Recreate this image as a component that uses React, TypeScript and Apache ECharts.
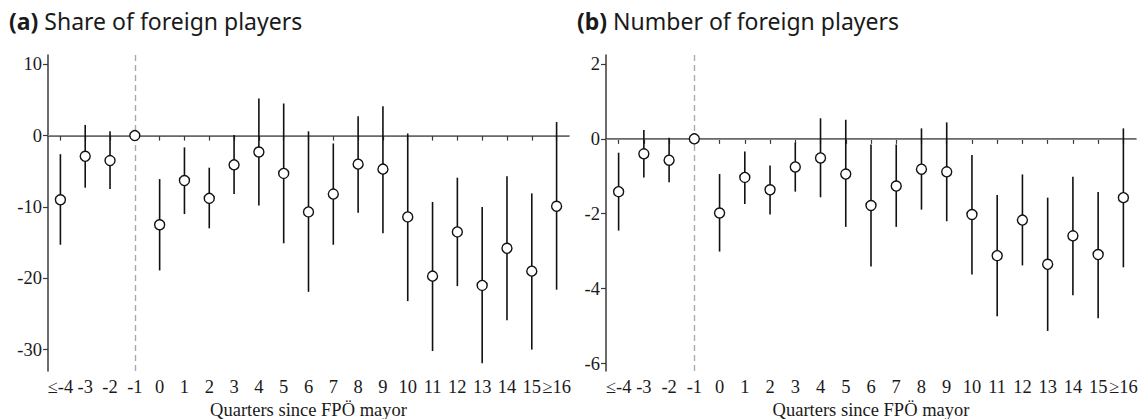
import React, { useEffect, useRef } from "react";
import * as echarts from "echarts";

const categories = ["≤-4", "-3", "-2", "-1", "0", "1", "2", "3", "4", "5", "6", "7", "8", "9", "10", "11", "12", "13", "14", "15", "≥16"];

// Panel (a): share of foreign players
const shareEst = [-9.0, -2.9, -3.5, 0, -12.5, -6.3, -8.8, -4.1, -2.3, -5.3, -10.7, -8.2, -4.0, -4.7, -11.4, -19.7, -13.5, -21.0, -15.8, -19.0, -9.9];
const shareLow = [-15.3, -7.3, -7.5, null, -18.9, -11.0, -13.0, -8.2, -9.8, -15.1, -21.9, -15.3, -10.8, -13.7, -23.2, -30.2, -21.1, -31.9, -25.9, -30.0, -21.6];
const shareHigh = [-2.6, 1.5, 0.6, null, -6.1, -1.65, -4.5, 0.07, 5.2, 4.5, 0.6, -1.1, 2.7, 4.1, 0.3, -9.3, -5.9, -10.0, -5.7, -8.1, 1.9];
const shareTicks = [-30, -20, -10, 0, 10];

// Panel (b): number of foreign players
const numEst = [-1.41, -0.40, -0.57, 0, -1.98, -1.03, -1.36, -0.75, -0.51, -0.94, -1.78, -1.26, -0.81, -0.88, -2.02, -3.12, -2.17, -3.35, -2.59, -3.09, -1.57];
const numLow = [-2.45, -1.03, -1.16, null, -3.01, -1.74, -2.02, -1.41, -1.56, -2.35, -3.41, -2.35, -1.89, -2.20, -3.62, -4.74, -3.38, -5.13, -4.18, -4.79, -3.43];
const numHigh = [-0.37, 0.24, 0.03, null, -0.94, -0.34, -0.71, -0.10, 0.55, 0.51, -0.15, -0.15, 0.28, 0.44, -0.43, -1.50, -0.95, -1.57, -1.01, -1.42, 0.28];
const numTicks = [-6, -4, -2, 0, 2];

const titleA = "Share of foreign players";
const titleB = "Number of foreign players";
const xTitle = "Quarters since FPÖ mayor";

const SERIF = "Liberation Serif";
const SANS = "Noto Sans";
const AXIS_COLOR = "#3a3a3a";
const TEXT_COLOR = "#1a1a1a";
const TICK_FONT = 18.5;

function ciData(low: (number | null)[], high: (number | null)[]) {
  const out: number[][] = [];
  low.forEach((l, i) => {
    const h = high[i];
    if (l !== null && h !== null) out.push([i, l, h]);
  });
  return out;
}

function makeXAxis(gridIndex: number) {
  return {
    type: "category",
    gridIndex,
    data: categories,
    boundaryGap: true,
    axisLine: { show: true, lineStyle: { color: AXIS_COLOR, width: 1.5 } },
    axisTick: { show: true, alignWithLabel: true, length: 5, lineStyle: { color: AXIS_COLOR, width: 1.2 } },
    axisLabel: { interval: 0, margin: 6, fontFamily: SERIF, fontSize: TICK_FONT, color: TEXT_COLOR },
    splitLine: { show: false },
    name: xTitle,
    nameLocation: "middle",
    nameGap: 28,
    nameTextStyle: { fontFamily: SERIF, fontSize: TICK_FONT, color: TEXT_COLOR },
  };
}

function makeYAxis(gridIndex: number, min: number, max: number, ticks: number[]) {
  return {
    type: "value",
    gridIndex,
    min,
    max,
    axisLine: { show: true, lineStyle: { color: AXIS_COLOR, width: 1.5 } },
    axisTick: { show: true, length: 5, customValues: ticks, lineStyle: { color: AXIS_COLOR, width: 1.2 } },
    axisLabel: { customValues: ticks, margin: 6, fontFamily: SERIF, fontSize: TICK_FONT, color: TEXT_COLOR },
    splitLine: { show: false },
  };
}

function refLines(idx: number) {
  return {
    type: "scatter",
    xAxisIndex: idx,
    yAxisIndex: idx,
    data: [],
    z: 1,
    silent: true,
    markLine: {
      z: 1,
      silent: true,
      symbol: ["none", "none"],
      label: { show: false },
      animation: false,
      data: [
        { yAxis: 0, lineStyle: { color: "#8a8a8a", width: 1.2, type: "solid" } },
        { xAxis: "-1", lineStyle: { color: "#aaaaaa", width: 1.4, type: [6, 4] } },
      ],
    },
  };
}

function ciSeries(idx: number, data: number[][]) {
  return {
    type: "custom",
    xAxisIndex: idx,
    yAxisIndex: idx,
    data,
    encode: { x: 0, y: [1, 2] },
    silent: true,
    z: 2,
    renderItem: (params: any, api: any) => {
      const x = api.value(0);
      const p1 = api.coord([x, api.value(1)]);
      const p2 = api.coord([x, api.value(2)]);
      return {
        type: "line",
        shape: { x1: p1[0], y1: p1[1], x2: p2[0], y2: p2[1] },
        style: { stroke: "#111", lineWidth: 1.6 },
      };
    },
  };
}

function pointSeries(idx: number, data: number[]) {
  return {
    type: "scatter",
    xAxisIndex: idx,
    yAxisIndex: idx,
    data,
    symbol: "circle",
    symbolSize: 10,
    z: 3,
    itemStyle: { color: "#fff", borderColor: "#111", borderWidth: 1.4, opacity: 1 },
  };
}

export default function App() {
  const ref = useRef<HTMLDivElement>(null);
  useEffect(() => {
    if (!ref.current) return;
    const chart = echarts.init(ref.current, undefined, { renderer: "svg" });
    const titleStyle = {
      fontFamily: SANS,
      fontSize: 23,
      fontWeight: "normal",
      color: TEXT_COLOR,
      rich: {
        b: { fontFamily: SANS, fontSize: 23, fontWeight: "bold", color: TEXT_COLOR },
        n: { fontFamily: SANS, fontSize: 23, fontWeight: "normal", color: TEXT_COLOR },
      },
    };
    chart.setOption({
      animation: false,
      backgroundColor: "#fff",
      title: [
        { text: "{b|(a)}{n| " + titleA + "}", left: 9, top: 9, textStyle: titleStyle, padding: 0 },
        { text: "{b|(b)}{n| " + titleB + "}", left: 577, top: 9, textStyle: titleStyle, padding: 0 },
      ],
      grid: [
        { left: 48, right: 573, top: 55, bottom: 48, containLabel: false, outerBoundsMode: "none" },
        { left: 606, right: 6, top: 55, bottom: 48, containLabel: false, outerBoundsMode: "none" },
      ],
      xAxis: [makeXAxis(0), makeXAxis(1)],
      yAxis: [makeYAxis(0, -33, 11.3, shareTicks), makeYAxis(1, -6.2, 2.24, numTicks)],
      series: [
        refLines(0),
        ciSeries(0, ciData(shareLow, shareHigh)),
        pointSeries(0, shareEst),
        refLines(1),
        ciSeries(1, ciData(numLow, numHigh)),
        pointSeries(1, numEst),
      ],
    });
    return () => chart.dispose();
  }, []);
  return <div ref={ref} style={{ position: "absolute", left: 0, top: 0, width: 1142, height: 419 }} />;
}
